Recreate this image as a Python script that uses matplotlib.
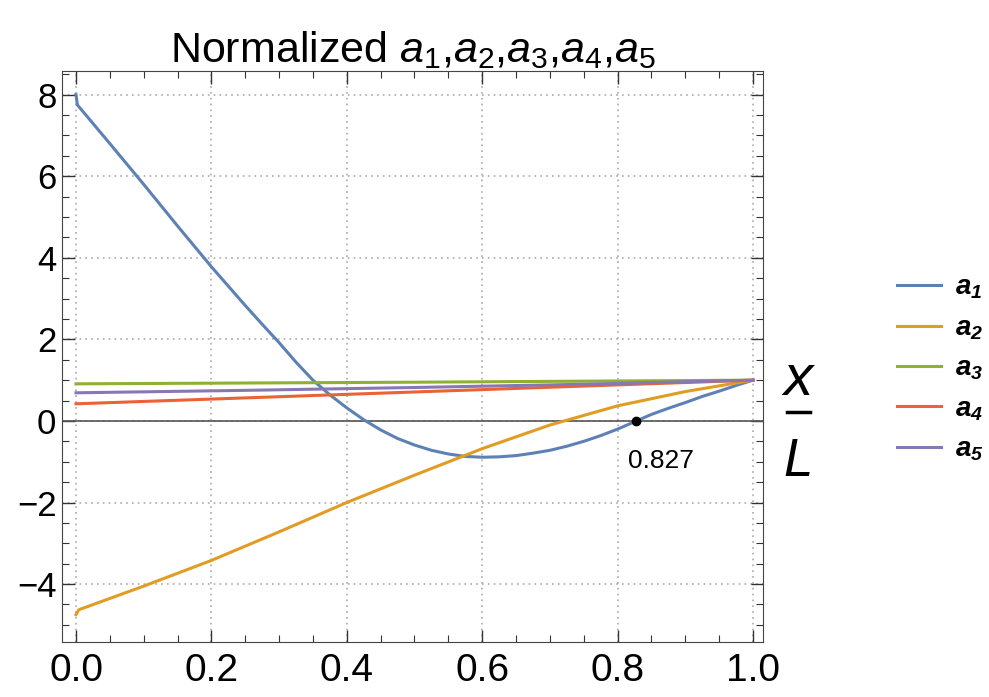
import matplotlib
matplotlib.use('Agg')
import matplotlib.pyplot as plt
from matplotlib.lines import Line2D
from matplotlib.ticker import MultipleLocator

# values
x1 = [0, 0.002, 0.05, 0.1, 0.15, 0.2, 0.25, 0.275, 0.3, 0.325, 0.35, 0.375,
      0.4, 0.425, 0.45, 0.475, 0.5, 0.525, 0.55, 0.575, 0.6, 0.625, 0.65,
      0.675, 0.7, 0.725, 0.75, 0.775, 0.8, 0.825, 0.85, 0.875, 0.9, 0.925,
      0.95, 0.975, 1.0]
a1 = [8.0, 7.75, 6.8, 5.8, 4.78, 3.78, 2.83, 2.37, 1.92, 1.44, 1.0, 0.64,
      0.32, 0.03, -0.22, -0.43, -0.59, -0.72, -0.81, -0.87, -0.89, -0.88, -0.85,
      -0.79, -0.72, -0.62, -0.5, -0.36, -0.2, -0.02, 0.16, 0.31, 0.45, 0.6,
      0.73, 0.87, 1.0]
x2 = [0, 0.004, 0.1, 0.2, 0.3, 0.4, 0.5, 0.6, 0.7, 0.8, 0.9, 1.0]
a2 = [-4.75, -4.63, -4.05, -3.42, -2.72, -2.0, -1.33, -0.68, -0.1, 0.37, 0.72, 1.0]
xf = [0, 0.25, 0.5, 0.75, 1.0]
a3 = [0.91, 0.93, 0.95, 0.975, 1.0]
a4 = [0.42, 0.565, 0.71, 0.855, 1.0]
a5 = [0.69, 0.75, 0.82, 0.9, 1.0]
root = 0.827

colors = ['#5E81B5', '#E19C24', '#8FB032', '#EB6235', '#8778B3']
labels = [r'$\mathbf{a}_\mathbf{%d}$' % i for i in range(1, 6)]

plt.rcParams['font.family'] = ['Liberation Sans', 'DejaVu Sans']
plt.rcParams['mathtext.fontset'] = 'custom'
plt.rcParams['mathtext.rm'] = 'Liberation Sans'
plt.rcParams['mathtext.it'] = 'Liberation Sans:italic'
plt.rcParams['mathtext.bf'] = 'Liberation Sans:bold:italic'

fig = plt.figure(figsize=(9.89, 6.97), dpi=100)
ax = fig.add_axes([62 / 989, 1 - 642 / 697, (763 - 62) / 989, (642 - 71) / 697])

lw = 2.2
ax.plot(x1, a1, color=colors[0], lw=lw, label=labels[0])
ax.plot(x2, a2, color=colors[1], lw=lw, label=labels[1])
ax.plot(xf, a3, color=colors[2], lw=lw, label=labels[2])
ax.plot(xf, a4, color=colors[3], lw=lw, label=labels[3])
ax.plot(xf, a5, color=colors[4], lw=lw, label=labels[4])
ax.axhline(0, color='#555555', lw=1.2, zorder=1)
ax.plot([root], [0], 'o', color='black', ms=6, zorder=5)
ax.text(0.815, -0.98, '%.3f' % root, fontsize=19, va='center', ha='left')

ax.set_xlim(-0.0207, 1.0148)
ax.set_ylim(-5.42, 8.58)
ax.xaxis.set_major_locator(MultipleLocator(0.2))
ax.xaxis.set_minor_locator(MultipleLocator(0.05))
ax.yaxis.set_major_locator(MultipleLocator(2))
ax.yaxis.set_minor_locator(MultipleLocator(0.5))
ax.xaxis.set_major_formatter(plt.FormatStrFormatter('%.1f'))
ax.tick_params(which='both', direction='in', top=True, right=True, color='#333333')
ax.tick_params(which='major', length=9, width=1)
ax.tick_params(which='minor', length=5, width=0.8)
ax.tick_params(axis='x', labelsize=28, pad=8)
ax.tick_params(axis='y', labelsize=25, pad=4)
for s in ax.spines.values():
    s.set_color('#444444')
ax.grid(True, which='major', color='#aaaaaa', linestyle=(0, (1, 2.5)), lw=1.2)
ax.set_axisbelow(True)

ax.set_title(r'Normalized $a_1$,$a_2$,$a_3$,$a_4$,$a_5$', fontsize=31, pad=5)

# x/L axis label drawn as a stacked fraction
fig.text(798 / 989, 1 - 380 / 697, 'x', fontsize=42, style='italic', ha='center', va='center')
fig.add_artist(Line2D([787 / 989, 810 / 989], [1 - 412 / 697] * 2, color='black', lw=2.5))
fig.text(798 / 989, 1 - 462 / 697, 'L', fontsize=38, style='italic', ha='center', va='center')

fig.legend(loc='center left', bbox_to_anchor=(897 / 989, 1 - 369 / 697), frameon=False,
           fontsize=20, handlelength=1.6, handletextpad=0.5, labelspacing=0.5,
           borderpad=0, borderaxespad=0)

fig.savefig('out.png', dpi=100)
